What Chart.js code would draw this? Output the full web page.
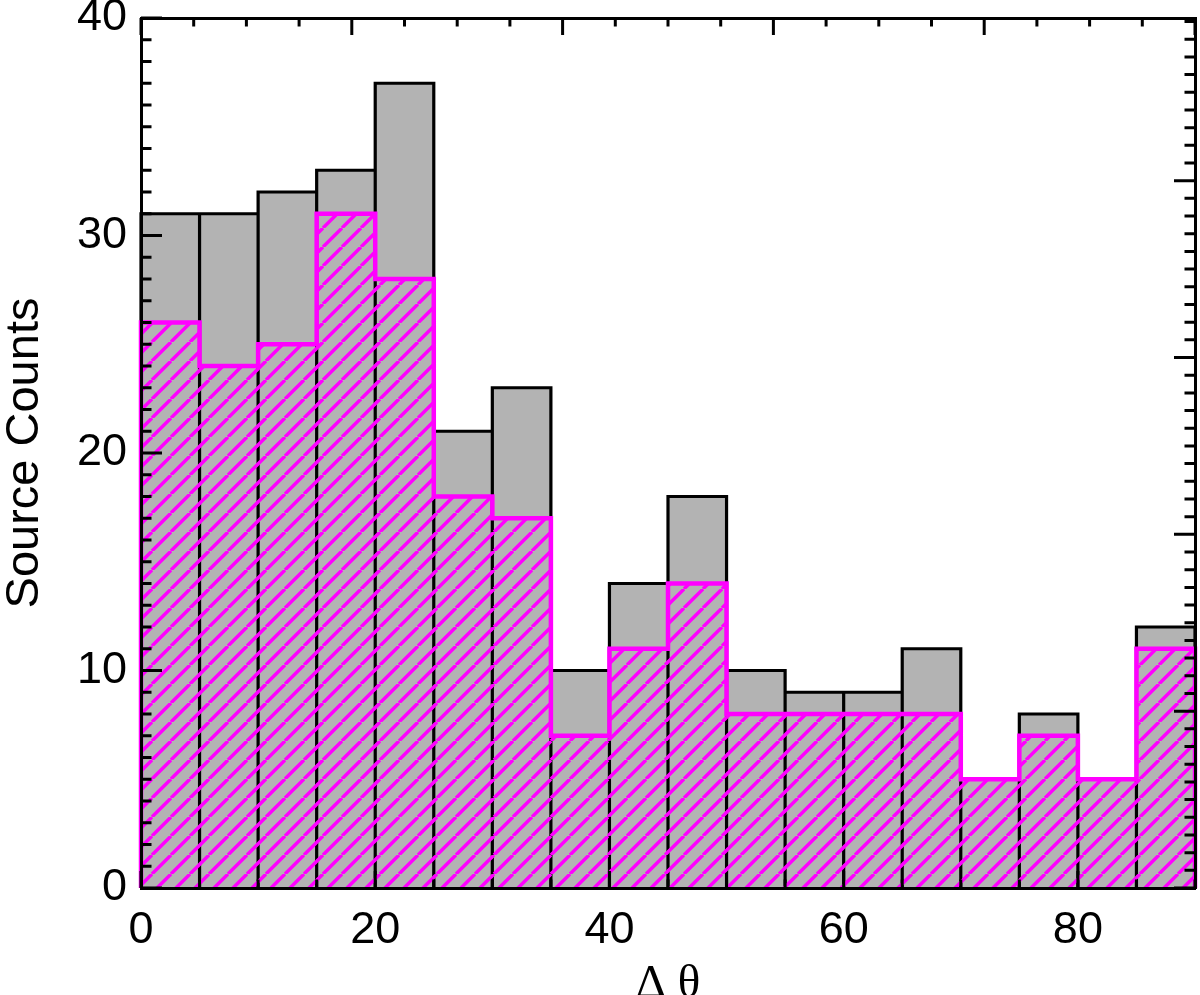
<!DOCTYPE html>
<html>
<head>
<meta charset="utf-8">
<script src="https://cdn.jsdelivr.net/npm/chart.js@4.4.1/dist/chart.umd.min.js"></script>
<style>
html,body{margin:0;padding:0;background:#fff;}
#wrap{width:1200px;height:995px;}
</style>
</head>
<body>
<div id="wrap"><canvas id="c" width="1200" height="995"></canvas></div>
<script>
// ---- data ----
const binEdges = [0,5,10,15,20,25,30,35,40,45,50,55,60,65,70,75,80,85,90];
const allCounts = [31,31,32,33,37,21,23,10,14,18,10,9,9,11,5,8,5,12];
const selCounts = [26,24,25,31,28,18,17,7,11,14,8,8,8,8,5,7,5,11];
const xTickValues = [0,20,40,60,80];
const yTickValues = [0,10,20,30,40];
const xMinorStep = 5;
const yMinorStep = 1;
const topMajorStep = 18, topMinorStep = 4.5;
const rightMax = 4.92, rightMajorStep = 1, rightMinorStep = 0.1;
const xTitle = 'Δ θ';
const yTitle = 'Source Counts';

// ---- derived geometry from data ----
const centers = allCounts.map((_, i) => (binEdges[i] + binEdges[i + 1]) / 2);
const grayBars = allCounts.map((v, i) => ({x: centers[i], y: v}));
const hatchBars = selCounts.map((v, i) => ({x: centers[i], y: v}));
const outline = [];
allCounts.forEach((v, i) => {
  outline.push({x: binEdges[i], y: 0}, {x: binEdges[i], y: v}, {x: binEdges[i + 1], y: v}, {x: binEdges[i + 1], y: 0});
});
const step = [{x: binEdges[0], y: 0}];
selCounts.forEach((v, i) => { step.push({x: binEdges[i], y: v}, {x: binEdges[i + 1], y: v}); });
step.push({x: binEdges[binEdges.length - 1], y: 0});

function hatchPattern() {
  const s = 19;
  const c = document.createElement('canvas');
  c.width = s; c.height = s;
  const g = c.getContext('2d');
  g.strokeStyle = '#ff00ff';
  g.lineWidth = 3.4;
  g.beginPath();
  for (const k of [-1, 0, 1]) { g.moveTo(k * s, s); g.lineTo(k * s + s, 0); }
  g.stroke();
  return g.createPattern(c, 'repeat');
}

function range(a, b, st) {
  const out = [];
  const n = Math.round((b - a) / st);
  for (let i = 0; i <= n; i++) out.push(+(a + i * st).toFixed(6));
  return out;
}

const tickPlugin = {
  id: 'inwardTicks',
  afterDraw(chart) {
    const ctx = chart.ctx, ca = chart.chartArea, s = chart.scales;
    ctx.save();
    ctx.strokeStyle = '#000';
    ctx.lineWidth = 3;
    ctx.lineCap = 'butt';
    ctx.beginPath();
    range(0, 90, xMinorStep).forEach(v => {
      const x = s.x.getPixelForValue(v);
      const len = (v % 20 === 0) ? 17 : 8.5;
      ctx.moveTo(x, ca.bottom); ctx.lineTo(x, ca.bottom - len);
    });
    range(0, 90, topMinorStep).forEach(v => {
      const x = s.x2.getPixelForValue(v);
      const len = (Math.abs(v / topMajorStep - Math.round(v / topMajorStep)) < 1e-6) ? 17 : 8.5;
      ctx.moveTo(x, ca.top); ctx.lineTo(x, ca.top + len);
    });
    range(0, 40, yMinorStep).forEach(v => {
      const y = s.y.getPixelForValue(v);
      const len = (v % 10 === 0) ? 21 : 10.5;
      ctx.moveTo(ca.left, y); ctx.lineTo(ca.left + len, y);
    });
    range(0, 4.9, rightMinorStep).forEach(v => {
      const y = s.y2.getPixelForValue(v);
      const len = (Math.abs(v / rightMajorStep - Math.round(v / rightMajorStep)) < 1e-6) ? 21 : 10.5;
      ctx.moveTo(ca.right, y); ctx.lineTo(ca.right - len, y);
    });
    ctx.stroke();
    ctx.restore();
  }
};

function noPad(sc) { sc.paddingTop = 0; sc.paddingBottom = 0; sc.paddingLeft = 0; sc.paddingRight = 0; }

const tickFont = {family: "'Liberation Sans', Arial, Helvetica, sans-serif", size: 45, lineHeight: 1};
const border = {display: true, color: '#000', width: 3, z: 1};

new Chart(document.getElementById('c'), {
  type: 'bar',
  data: {
    datasets: [
      {type: 'line', data: step, borderColor: '#ff00ff', borderWidth: 4.5, pointRadius: 0, fill: false,
       tension: 0, borderJoinStyle: 'miter', order: 1, clip: false},
      {type: 'bar', data: hatchBars, backgroundColor: hatchPattern(), borderWidth: 0,
       barPercentage: 1, categoryPercentage: 1, grouped: false, order: 2},
      {type: 'line', data: outline, borderColor: '#000', borderWidth: 3.2, pointRadius: 0, fill: false,
       tension: 0, borderJoinStyle: 'miter', order: 3, clip: false},
      {type: 'bar', data: grayBars, backgroundColor: '#b3b3b3', borderWidth: 0,
       barPercentage: 1, categoryPercentage: 1, grouped: false, order: 4}
    ]
  },
  options: {
    responsive: false,
    devicePixelRatio: 1,
    animation: false,
    events: [],
    layout: {padding: 0},
    plugins: {legend: {display: false}, tooltip: {enabled: false}},
    scales: {
      x: {
        type: 'linear', position: 'bottom', min: 0, max: 90, offset: false,
        grid: {display: false, drawTicks: false, offset: false},
        border: border,
        ticks: {font: tickFont, color: '#000', padding: 20, autoSkip: false, maxRotation: 0},
        afterBuildTicks: sc => { sc.ticks = xTickValues.map(v => ({value: v})); },
        afterFit: sc => { sc.height = 107; noPad(sc); },
        title: {display: true, text: xTitle, color: '#000',
                font: {family: "'Liberation Serif', 'DejaVu Serif', serif", size: 47, lineHeight: 0.42},
                padding: 0}
      },
      x2: {
        type: 'linear', position: 'top', min: 0, max: 90, offset: false,
        grid: {display: false, drawTicks: false},
        border: border,
        ticks: {display: false},
        afterFit: sc => { sc.height = 18; noPad(sc); }
      },
      y: {
        type: 'linear', position: 'left', min: 0, max: 40,
        grid: {display: false, drawTicks: false},
        border: border,
        ticks: {font: tickFont, color: '#000', padding: 14, autoSkip: false},
        afterBuildTicks: sc => { sc.ticks = yTickValues.map(v => ({value: v})); },
        afterFit: sc => { sc.width = 141; noPad(sc); },
        title: {display: true, text: yTitle, color: '#000',
                font: {family: "'Liberation Sans', Arial, Helvetica, sans-serif", size: 47, lineHeight: 1},
                padding: {top: 2, bottom: 0}}
      },
      y2: {
        type: 'linear', position: 'right', min: 0, max: rightMax,
        grid: {display: false, drawTicks: false},
        border: border,
        ticks: {display: false},
        afterFit: sc => { sc.width = 5; noPad(sc); }
      }
    }
  },
  plugins: [tickPlugin]
});
</script>
</body>
</html>
